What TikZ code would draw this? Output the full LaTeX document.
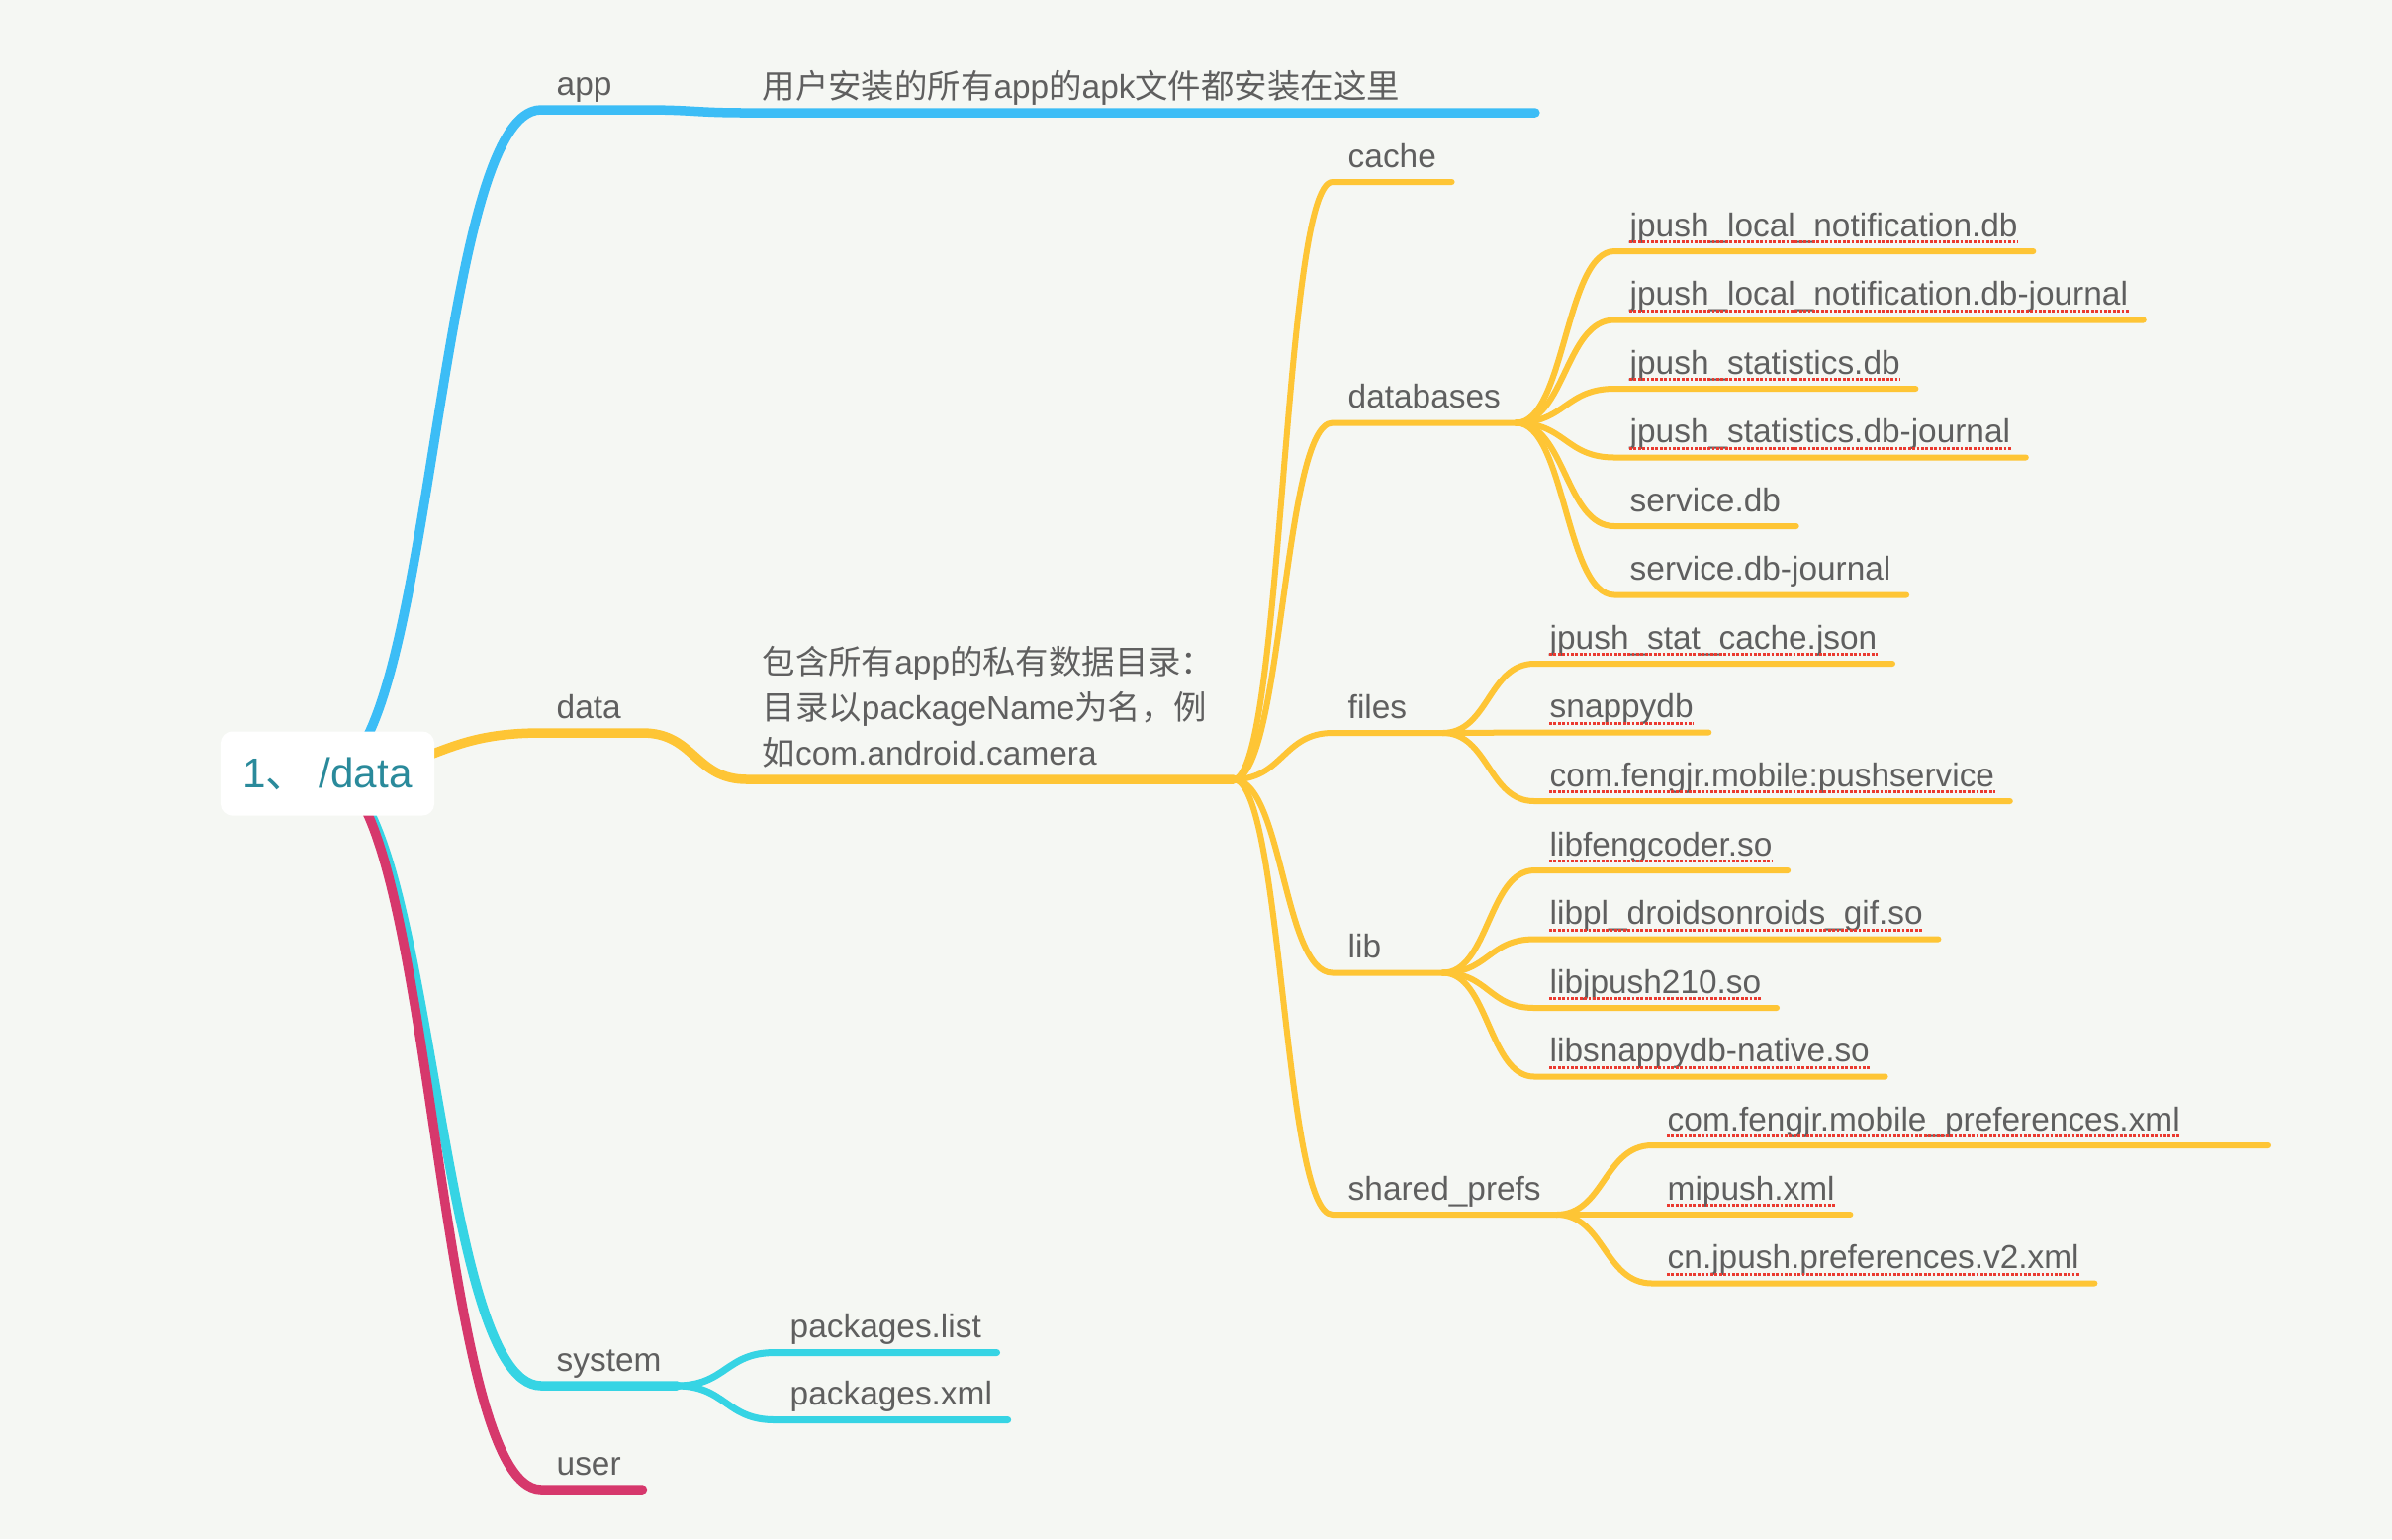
\documentclass[tikz,border=0pt]{standalone}
\usepackage{fontspec}
\setmainfont{Liberation Sans}
\newfontfamily\cjk{Noto Sans CJK SC}
\usetikzlibrary{calc}

\definecolor{bgcol}{HTML}{F5F7F3}
\definecolor{appblue}{HTML}{3CBDF6}
\definecolor{datayellow}{HTML}{FEC535}
\definecolor{syscyan}{HTML}{36D4E4}
\definecolor{userred}{HTML}{D6386C}
\definecolor{labelgray}{HTML}{5F5F5F}
\definecolor{roottext}{HTML}{2A8A9B}
\definecolor{typored}{HTML}{EA3A30}

\pgfdeclarelayer{canvas}
\pgfdeclarelayer{links}
\pgfsetlayers{canvas,links,main}

\tikzset{
  topic/.style={anchor=south west, inner xsep=0.15cm, inner ysep=0.06cm, text depth=0.08cm,
    text=labelgray, font=\fontsize{9.5}{13.1}\selectfont},
  wide/.style={text width=#1, align=left},
  note/.style={anchor=south west, inner xsep=0.15cm, inner ysep=0.11cm, text width=#1, align=left,
    text=labelgray, font=\fontsize{9.5}{13.1}\selectfont},
  rootbox/.style={fill=white, rounded corners=0.12cm, minimum width=2.16cm, minimum height=0.85cm,
    text=roottext, font=\fontsize{12}{14}\selectfont},
  branch/.style={to path={let \p1=(\tikztostart), \p2=(\tikztotarget) in
    .. controls ({(\x1+\x2)/2},\y1) and ({(\x1+\x2)/2},\y2) .. (\tikztotarget) \tikztonodes}},
  level1/.style={line width=0.095cm},
  level2/.style={line width=0.06cm},
  pkgline/.style={line width=0.07cm},
  typo/.style={typored, line width=0.03cm, dash pattern=on 0.028cm off 0.016cm}
}

\begin{document}
\begin{tikzpicture}[x=0.01cm, y=-0.01cm]
  \useasboundingbox (0,0) rectangle (2418,1556);
  \begin{pgfonlayer}{canvas}
    \fill[bgcol] (0,0) rectangle (2418,1556);
  \end{pgfonlayer}

  \node[rootbox] (root) at (331,782) {1{\cjk 、} /data};

  \node[topic, wide=0.71cm] (app) at (547,111) {app};
  \node[topic, wide=7.65cm] (appnote) at (755,114) {{\cjk 用户安装的所有}app{\cjk 的}apk{\cjk 文件都安装在这里}};
  \node[topic, wide=0.71cm] (data) at (547,741) {data};
  \node[note=4.6cm] (datanote) at (755,788) {{\cjk 包含所有}app{\cjk 的私有数据目录：}\\{\cjk 目录以}packageName{\cjk 为名，例}\\{\cjk 如}com.android.camera};

  \node[topic] (cache) at (1347,184) {cache};
  \node[topic] (databases) at (1347,427.5) {databases};
  \node[topic, wide=0.8cm] (files) at (1347,741) {files};
  \node[topic, wide=0.8cm] (lib) at (1347,983.5) {lib};
  \node[topic] (prefs) at (1347,1228) {shared\_prefs};

  \node[topic] (db1) at (1632,254) {jpush\_local\_notification.db};
  \node[topic] (db2) at (1632,323.5) {jpush\_local\_notification.db-journal};
  \node[topic] (db3) at (1632,393) {jpush\_statistics.db};
  \node[topic] (db4) at (1632,462.5) {jpush\_statistics.db-journal};
  \node[topic] (db5) at (1632,532) {service.db};
  \node[topic] (db6) at (1632,601.5) {service.db-journal};

  \node[topic] (file1) at (1551,671) {jpush\_stat\_cache.json};
  \node[topic] (file2) at (1551,740.5) {snappydb};
  \node[topic] (file3) at (1551,810) {com.fengjr.mobile:pushservice};

  \node[topic] (lib1) at (1551,880) {libfengcoder.so};
  \node[topic] (lib2) at (1551,949.5) {libpl\_droidsonroids\_gif.so};
  \node[topic] (lib3) at (1551,1019) {libjpush210.so};
  \node[topic] (lib4) at (1551,1088.5) {libsnappydb-native.so};

  \node[topic] (pref1) at (1670,1158) {com.fengjr.mobile\_preferences.xml};
  \coordinate (pref1end) at (2293,1158);
  \node[topic] (pref2) at (1670,1228) {mipush.xml};
  \node[topic] (pref3) at (1670,1297.5) {cn.jpush.preferences.v2.xml};

  \node[topic] (system) at (547,1401) {system};
  \node[topic] (pkg1) at (783,1367.5) {packages.list};
  \node[topic] (pkg2) at (783,1435.5) {packages.xml};
  \node[topic, wide=0.71cm] (user) at (547,1506) {user};

  \begin{pgfonlayer}{links}
  \begin{scope}[line cap=round, line join=round]
    \draw[appblue, level1] (root.center) to[branch] (app.south west) -- (app.south east)
      to[branch] (appnote.south west) -- (appnote.south east);
    \draw[datayellow, level1] (root.center) to[branch] (data.south west) -- (data.south east)
      to[branch] (datanote.south west) -- (datanote.south east);
    \foreach \leaf in {cache,databases,files,lib,prefs}
      \draw[datayellow, level2] (datanote.south east) to[branch] (\leaf.south west) -- (\leaf.south east);
    \foreach \leaf in {db1,db2,db3,db4,db5,db6}
      \draw[datayellow, level2] (databases.south east) to[branch] (\leaf.south west) -- (\leaf.south east);
    \foreach \leaf in {file1,file2,file3}
      \draw[datayellow, level2] (files.south east) to[branch] (\leaf.south west) -- (\leaf.south east);
    \foreach \leaf in {lib1,lib2,lib3,lib4}
      \draw[datayellow, level2] (lib.south east) to[branch] (\leaf.south west) -- (\leaf.south east);
    \draw[datayellow, level2] (prefs.south east) to[branch] (pref1.south west) -- (pref1end);
    \foreach \leaf in {pref2,pref3}
      \draw[datayellow, level2] (prefs.south east) to[branch] (\leaf.south west) -- (\leaf.south east);
    \draw[syscyan, level1] (root.center) to[branch] (system.south west) -- (system.south east);
    \foreach \leaf in {pkg1,pkg2}
      \draw[syscyan, pkgline] (system.south east) to[branch] (\leaf.south west) -- (\leaf.south east);
    \draw[userred, level1] (root.center) to[branch] (user.south west) -- (user.south east);
  \end{scope}
  \end{pgfonlayer}

  \foreach \leaf in {db1,db2,db3,db4,file1,file2,file3,lib1,lib2,lib3,lib4,pref1,pref2,pref3}
    \draw[typo] ([xshift=0.15cm, yshift=0.095cm]\leaf.south west) -- ([xshift=-0.15cm, yshift=0.095cm]\leaf.south east);
\end{tikzpicture}
\end{document}
